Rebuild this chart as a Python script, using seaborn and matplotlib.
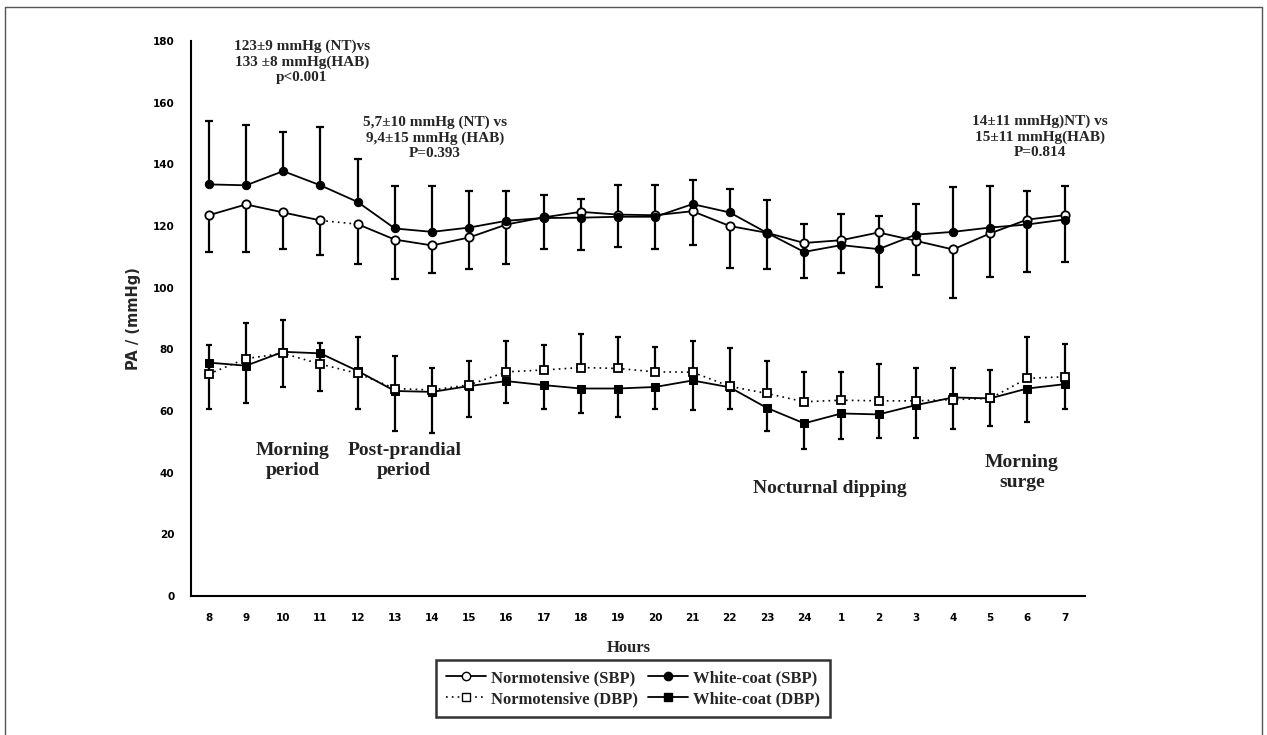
import numpy as np
import pandas as pd
import matplotlib.pyplot as plt
import seaborn as sns
from matplotlib.lines import Line2D

# data (mmHg)
hours = ['8', '9', '10', '11', '12', '13', '14', '15', '16', '17', '18', '19',
         '20', '21', '22', '23', '24', '1', '2', '3', '4', '5', '6', '7']

nt_sbp = [123.5, 127.0, 124.4, 121.8, 120.6, 115.6, 113.7, 116.3, 120.5, 122.8, 124.6, 123.7,
          123.5, 124.8, 120.0, 117.8, 114.5, 115.4, 117.9, 115.2, 112.4, 117.6, 122.1, 123.5]
nt_sbp_low = [111.5, 111.5, 112.5, 110.5, 107.6, 102.9, 104.6, 106.0, 107.6, 112.5, 112.2, 113.2,
              112.7, 113.8, 106.5, 106.0, 103.0, 104.6, 100.1, 104.1, 96.8, 103.5, 105.1, 108.2]

wc_sbp = [133.5, 133.2, 137.8, 133.2, 127.8, 119.2, 118.1, 119.5, 121.7, 122.6, 122.7, 123.0,
          123.0, 127.1, 124.4, 117.8, 111.6, 113.8, 112.5, 117.2, 118.1, 119.5, 120.5, 122.1]
wc_sbp_high = [154.1, 152.7, 150.5, 152.1, 141.6, 132.9, 132.9, 131.4, 131.4, 130.0, 128.6, 133.2,
               133.2, 134.8, 132.1, 128.5, 120.8, 123.8, 123.3, 127.0, 132.5, 132.9, 131.4, 132.9]

nt_dbp = [72.0, 77.0, 78.7, 75.2, 72.2, 67.3, 66.8, 68.5, 72.7, 73.3, 74.1, 73.8,
          72.7, 72.6, 68.0, 65.7, 63.0, 63.5, 63.3, 63.3, 63.7, 64.1, 70.6, 71.1]
nt_dbp_high = [81.4, 88.4, 89.5, 82.2, 83.9, 77.8, 73.8, 76.2, 82.8, 81.4, 84.9, 84.1,
               80.8, 82.8, 80.3, 76.3, 72.5, 72.5, 75.4, 73.8, 73.8, 73.3, 84.1, 81.6]

wc_dbp = [75.7, 74.7, 79.2, 78.7, 73.0, 66.5, 66.2, 68.1, 69.7, 68.4, 67.3, 67.3,
          67.8, 69.9, 67.7, 61.0, 56.0, 59.2, 58.9, 61.9, 64.4, 64.1, 67.3, 68.7]
wc_dbp_low = [60.5, 62.7, 67.9, 66.6, 60.5, 53.6, 52.9, 58.1, 62.5, 60.5, 59.4, 58.1,
              60.5, 60.3, 60.6, 53.6, 47.6, 50.9, 51.4, 51.4, 54.1, 55.2, 56.3, 60.5]

yticks = [0, 20, 40, 60, 80, 100, 120, 140, 160, 180]

df = pd.DataFrame({'pos': np.arange(len(hours)), 'nt_sbp': nt_sbp, 'wc_sbp': wc_sbp,
                   'nt_dbp': nt_dbp, 'wc_dbp': wc_dbp})

sns.set_style('white')
serif = ['Liberation Serif', 'DejaVu Serif']

fig = plt.figure(figsize=(12.67, 7.35), dpi=100)
ax = fig.add_axes([0.1507, 0.1891, 0.7057, 0.7551])

lw = 1.3
zero = np.zeros(len(hours))
# error bars (one-sided, as drawn in the original)
ax.errorbar(df['pos'], df['nt_sbp'], yerr=[df['nt_sbp'] - np.array(nt_sbp_low), zero],
            fmt='none', ecolor='black', elinewidth=1.6, capsize=3, capthick=1.6)
ax.errorbar(df['pos'], df['wc_sbp'], yerr=[zero, np.array(wc_sbp_high) - df['wc_sbp']],
            fmt='none', ecolor='black', elinewidth=1.6, capsize=3, capthick=1.6)
ax.errorbar(df['pos'], df['nt_dbp'], yerr=[zero, np.array(nt_dbp_high) - df['nt_dbp']],
            fmt='none', ecolor='black', elinewidth=1.6, capsize=2.5, capthick=1.6)
ax.errorbar(df['pos'], df['wc_dbp'], yerr=[df['wc_dbp'] - np.array(wc_dbp_low), zero],
            fmt='none', ecolor='black', elinewidth=1.6, capsize=2.5, capthick=1.6)

# Normotensive SBP: solid, with a dotted gap between 11 and 12 h
seg1 = df.iloc[:4]
seg2 = df.iloc[4:]
gap = df.iloc[3:5]
sns.lineplot(data=gap, x='pos', y='nt_sbp', ax=ax, color='black', lw=1.2, linestyle=(0, (1, 2.5)))
for seg in (seg1, seg2):
    sns.lineplot(data=seg, x='pos', y='nt_sbp', ax=ax, color='black', lw=lw, marker='o',
                 markersize=6, markerfacecolor='white', markeredgecolor='black', markeredgewidth=1.3)

sns.lineplot(data=df, x='pos', y='wc_sbp', ax=ax, color='black', lw=lw, marker='o',
             markersize=6, markerfacecolor='black', markeredgecolor='black')
sns.lineplot(data=df, x='pos', y='wc_dbp', ax=ax, color='black', lw=lw, marker='s',
             markersize=6, markerfacecolor='black', markeredgecolor='black')
sns.lineplot(data=df, x='pos', y='nt_dbp', ax=ax, color='black', lw=1.2, linestyle=(0, (1, 2.5)))
ax.plot(df['pos'], df['nt_dbp'], linestyle='none', marker='s', markersize=6,
        markerfacecolor='white', markeredgecolor='black', markeredgewidth=1.3)

ax.set_xlim(-0.48, 23.55)
ax.set_ylim(0, 180)
ax.set_xticks(df['pos'])
ax.set_xticklabels(hours)
ax.set_yticks(yticks)
ax.set_yticklabels([str(t) for t in yticks])
ax.tick_params(axis='both', direction='out', length=5, width=1.3, colors='black',
               labelsize=7.5, pad=7)
for lab in ax.get_xticklabels() + ax.get_yticklabels():
    lab.set_fontweight('bold')
sns.despine(ax=ax)
for s in ('left', 'bottom'):
    ax.spines[s].set_linewidth(1.5)
    ax.spines[s].set_color('black')
ax.set_xlabel('')
ax.set_ylabel('PA / (mmHg)', fontsize=10.5, fontweight='bold', labelpad=8)

# text annotations
ax.text(2.25, 44, 'Morning\nperiod', family=serif, fontweight='bold', fontsize=14,
        ha='center', va='center', linespacing=1.25, color='#222222')
ax.text(5.25, 44, 'Post-prandial\nperiod', family=serif, fontweight='bold', fontsize=14,
        ha='center', va='center', linespacing=1.25, color='#222222')
ax.text(16.7, 35, 'Nocturnal dipping', family=serif, fontweight='bold', fontsize=14,
        ha='center', va='center', color='#222222')
ax.text(21.85, 40, 'Morning\nsurge', family=serif, fontweight='bold', fontsize=14,
        ha='center', va='center', linespacing=1.25, color='#222222')

fig.text(302 / 1267, 1 - 62 / 735, '123±9 mmHg (NT)vs\n133 ±8 mmHg(HAB)\np<0.001',
         family=serif, fontweight='bold', fontsize=11, ha='center', va='center', linespacing=1.2)
fig.text(435 / 1267, 1 - 138 / 735, '5,7±10 mmHg (NT) vs\n9,4±15 mmHg (HAB)\nP=0.393',
         family=serif, fontweight='bold', fontsize=11, ha='center', va='center', linespacing=1.2)
fig.text(1040 / 1267, 1 - 137 / 735, '14±11 mmHg)NT) vs\n15±11 mmHg(HAB)\nP=0.814',
         family=serif, fontweight='bold', fontsize=11, ha='center', va='center', linespacing=1.2)

fig.text(0.496, 1 - 648 / 735, 'Hours', family=serif, fontweight='bold', fontsize=12,
         ha='center', va='center')

# legend
handles = [
    Line2D([], [], color='black', lw=lw, marker='o', markersize=6, markerfacecolor='white'),
    Line2D([], [], color='black', lw=1.2, linestyle=(0, (1, 2.5)), marker='s', markersize=6,
           markerfacecolor='white'),
    Line2D([], [], color='black', lw=lw, marker='o', markersize=6, markerfacecolor='black'),
    Line2D([], [], color='black', lw=lw, marker='s', markersize=6, markerfacecolor='black'),
]
labels = ['Normotensive (SBP)', 'Normotensive (DBP)', 'White-coat (SBP)', 'White-coat (DBP)']
leg = fig.legend(handles, labels, ncol=2, loc='upper center', bbox_to_anchor=(633 / 1267, 1 - 660 / 735),
                 prop={'family': serif, 'weight': 'bold', 'size': 12}, frameon=True, fancybox=False,
                 handlelength=2.4, handletextpad=0.3, columnspacing=0.6, borderpad=0.6,
                 labelspacing=0.3, borderaxespad=0)
leg.get_frame().set_edgecolor('black')
leg.get_frame().set_linewidth(1.8)

# outer frame of the figure
fig.add_artist(Line2D([5 / 1267, 5 / 1267, 1262 / 1267, 1262 / 1267],
                      [0, 1 - 7 / 735, 1 - 7 / 735, 0], color='#555555', lw=1,
                      transform=fig.transFigure))

fig.savefig('out.png', dpi=100)
